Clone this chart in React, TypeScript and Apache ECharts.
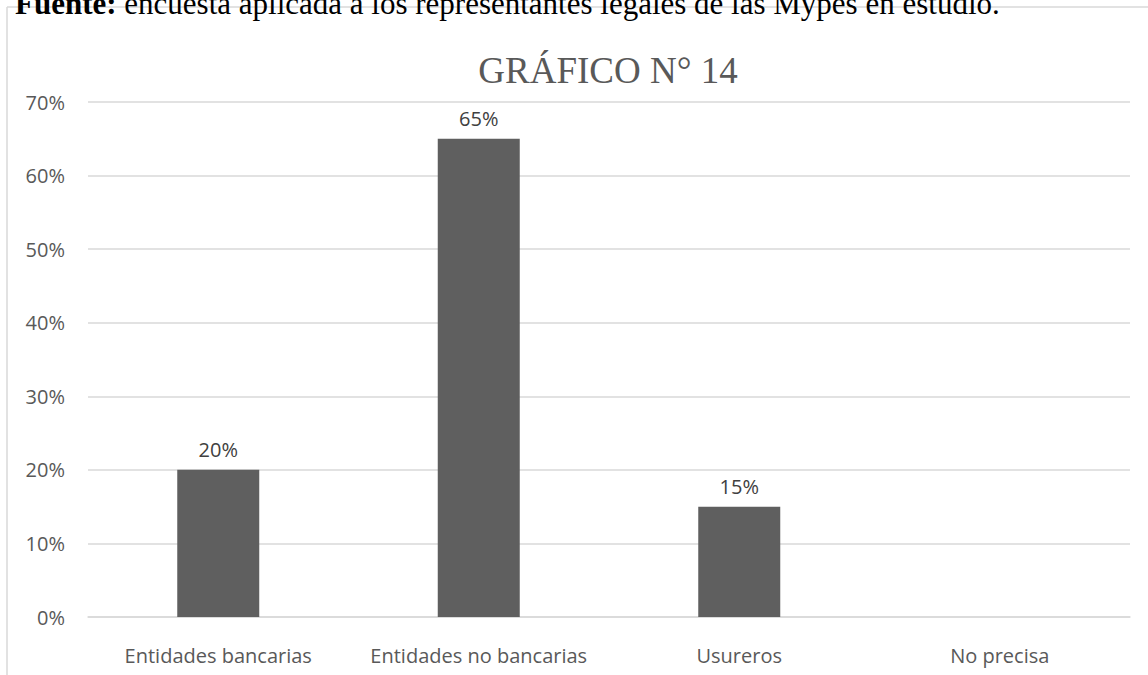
import React, { useEffect, useRef } from "react";
import * as echarts from "echarts";

const categories = ["Entidades bancarias", "Entidades no bancarias", "Usureros", "No precisa"];
const values = [20, 65, 15, 0];
const yTicks = { min: 0, max: 70, interval: 10 };
const titleText = "GRÁFICO N° 14";
const sourceBold = "Fuente:";
const sourceRest = " encuesta aplicada a los representantes legales de las Mypes en estudio.";

export default function App() {
  const ref = useRef<HTMLDivElement>(null);
  useEffect(() => {
    if (!ref.current) return;
    const chart = echarts.init(ref.current, null, { renderer: "svg" });
    chart.setOption({
      animation: false,
      backgroundColor: "#ffffff",
      grid: { left: 88, right: 18, top: 102, bottom: 58, containLabel: false },
      xAxis: {
        type: "category",
        data: categories,
        axisLine: { show: true, lineStyle: { color: "#d9d9d9", width: 1.5 } },
        axisTick: { show: false },
        axisLabel: { color: "#595959", fontFamily: "Open Sans", fontSize: 20, margin: 28, interval: 0 },
      },
      yAxis: {
        type: "value",
        min: yTicks.min,
        max: yTicks.max,
        interval: yTicks.interval,
        axisLine: { show: false },
        axisTick: { show: false },
        splitLine: { lineStyle: { color: "#d9d9d9", width: 1.5 } },
        axisLabel: { color: "#595959", fontFamily: "Open Sans", fontSize: 20, margin: 23, formatter: "{value}%" },
      },
      series: [
        {
          type: "bar",
          data: values,
          barWidth: 82,
          itemStyle: { color: "#5f5f5f" },
          label: {
            show: true,
            position: "top",
            distance: 10,
            color: "#404040",
            fontFamily: "Open Sans",
            fontSize: 20,
            formatter: (p: any) => (p.value > 0 ? p.value + "%" : ""),
          },
        },
      ],
      graphic: [
        {
          type: "line",
          z: 0,
          shape: { x1: 7, y1: 7, x2: 1148, y2: 7 },
          style: { stroke: "#d9d9d9", lineWidth: 1.5 },
        },
        {
          type: "line",
          z: 0,
          shape: { x1: 7, y1: 7, x2: 7, y2: 675 },
          style: { stroke: "#d9d9d9", lineWidth: 1.5 },
        },
        {
          type: "text",
          z: 10,
          left: 15,
          top: -12,
          style: {
            text: "{b|" + sourceBold + "}" + sourceRest,
            fontFamily: "Liberation Serif",
            fontSize: 31,
            fill: "#000000",
            rich: { b: { fontWeight: "bold", fontFamily: "Liberation Serif", fontSize: 31, fill: "#000000" } },
          },
        },
        {
          type: "text",
          z: 10,
          x: 608,
          y: 70,
          style: {
            text: titleText,
            fontFamily: "Liberation Serif",
            fontSize: 37,
            fill: "#595959",
            align: "center",
            verticalAlign: "middle",
          },
        },
      ],
    });
    return () => chart.dispose();
  }, []);
  return <div ref={ref} style={{ position: "fixed", left: 0, top: 0, width: 1148, height: 675 }} />;
}
